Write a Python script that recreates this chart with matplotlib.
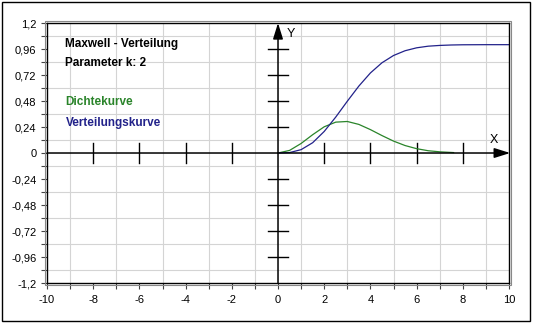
import matplotlib
matplotlib.use("Agg")
import matplotlib.pyplot as plt
from matplotlib.patches import Rectangle

plt.rcParams['font.family'] = ['Liberation Sans', 'DejaVu Sans']
plt.rcParams['axes.unicode_minus'] = False

# valores (k = 2)
x_dichte = [0, 0.5, 1, 1.5, 2, 2.5, 3, 3.5, 4, 4.5, 5, 5.5, 6, 6.5, 7, 7.6]
y_dichte = [0, 0.024, 0.088, 0.169, 0.242, 0.285, 0.291, 0.264, 0.216, 0.161,
            0.110, 0.069, 0.040, 0.021, 0.011, 0.004]

x_vert = [0, 0.5, 1, 1.5, 2, 2.5, 3, 3.5, 4, 4.5, 5, 5.5, 6, 6.5, 7, 7.5, 8, 9, 10]
y_vert = [0, 0.004, 0.031, 0.095, 0.199, 0.332, 0.478, 0.618, 0.739, 0.833,
          0.900, 0.944, 0.971, 0.986, 0.993, 0.997, 0.999, 1.0, 1.0]

x_ticks = [-10, -8, -6, -4, -2, 0, 2, 4, 6, 8, 10]
y_ticks = [-1.2, -0.96, -0.72, -0.48, -0.24, 0, 0.24, 0.48, 0.72, 0.96, 1.2]
y_labels = ['-1,2', '-0,96', '-0,72', '-0,48', '-0,24', '0', '0,24', '0,48', '0,72', '0,96', '1,2']

fig = plt.figure(figsize=(5.33, 3.24), dpi=100)
ax = fig.add_axes([0.0882, 0.1265, 0.8668, 0.8025])

ax.set_xlim(-10, 10)
ax.set_ylim(-1.2, 1.2)

# grade fina
ax.set_xticks(range(-10, 11), minor=True)
ax.set_yticks([i * 0.12 for i in range(-10, 11)], minor=True)
ax.grid(True, which='minor', color='#d4d4d4', lw=0.8)
ax.set_xticks(x_ticks)
ax.set_yticks(y_ticks)
ax.set_yticklabels(y_labels)
ax.tick_params(which='both', direction='out', length=4.3, width=0.8, color='#444444',
               labelsize=8, pad=3.4)
ax.tick_params(axis='x', pad=4)
for s in ax.spines.values():
    s.set_color('black')
    s.set_linewidth(1.0)

# moldura cinza e borda externa
fig.patches.append(Rectangle((45 / 533, 1 - 285 / 324), 466 / 533, 264 / 324,
                             transform=fig.transFigure, fill=False, ec='#888888', lw=0.8))
fig.patches.append(Rectangle((2 / 533, 1 - 321 / 324), 528 / 533, 319 / 324,
                             transform=fig.transFigure, fill=False, ec='black', lw=1.0))

# eixos com setas
seta = dict(arrowstyle='-|>,head_length=0.8,head_width=0.25', color='black',
            lw=1.1, mutation_scale=12, shrinkA=0, shrinkB=0)
ax.annotate('', xy=(10.05, 0), xytext=(-10, 0), arrowprops=seta, annotation_clip=False)
ax.annotate('', xy=(0, 1.2), xytext=(0, -1.2), arrowprops=seta, annotation_clip=False)

for xt in [-8, -6, -4, -2, 2, 4, 6, 8]:
    ax.plot([xt, xt], [-0.092, 0.092], color='black', lw=1.0)
for yt in [-0.96, -0.72, -0.48, -0.24, 0.24, 0.48, 0.72, 0.96]:
    ax.plot([-0.45, 0.45], [yt, yt], color='black', lw=1.0)

ax.text(9.35, 0.12, 'X', fontsize=9, ha='center', va='center')
ax.text(0.56, 1.10, 'Y', fontsize=9, ha='center', va='center')

# curvas
ax.plot(x_dichte, y_dichte, color='#2a842a', lw=0.9)
ax.plot(x_vert, y_vert, color='#22228a', lw=0.9)

# textos
ax.text(-9.2, 1.01, 'Maxwell - Verteilung', fontsize=8.5, fontweight='bold', va='center')
ax.text(-9.2, 0.83, 'Parameter k: 2', fontsize=8.5, fontweight='bold', va='center')
ax.text(-9.2, 0.47, 'Dichtekurve', fontsize=8.5, fontweight='bold', va='center', color='#2a842a')
ax.text(-9.2, 0.28, 'Verteilungskurve', fontsize=8.5, fontweight='bold', va='center', color='#22228a')

fig.savefig('out.png', dpi=100)
